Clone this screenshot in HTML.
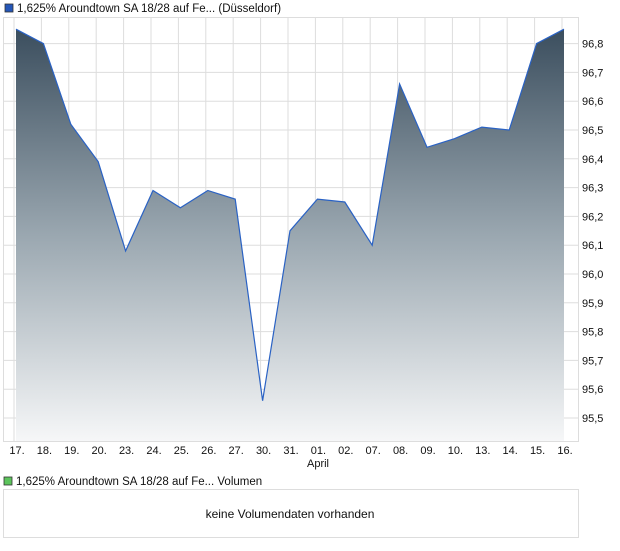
<!DOCTYPE html><html><head><style>body{margin:0;background:#fff;font-family:"Liberation Sans",sans-serif;}</style></head><body>
<svg width="620" height="546" xmlns="http://www.w3.org/2000/svg" font-family="Liberation Sans, sans-serif">
<defs><linearGradient id="g" x1="0" y1="0" x2="0" y2="1"><stop offset="0" stop-color="#3b4e5e"/><stop offset="0.5" stop-color="#9aa7b0"/><stop offset="1" stop-color="#f6f7f8"/></linearGradient></defs>
<rect x="5" y="4" width="8" height="8" fill="#2456b8" stroke="#333" stroke-width="0.8"/>
<text x="17" y="12" font-size="11.5" fill="#111">1,625% Aroundtown SA 18/28 auf Fe... (Düsseldorf)</text>
<g stroke="#ddd" stroke-width="1" id="grid"></g>
<rect x="3.5" y="17.5" width="575" height="424" fill="none" stroke="#ddd"/>
<path id="area" fill="url(#g)"/>
<path id="line" fill="none" stroke="#2a62c4" stroke-width="1.2"/>
<g id="yl" font-size="11" fill="#111"></g>
<g id="xl" font-size="11" fill="#111" text-anchor="middle"></g>
<text x="318" y="467" font-size="11" text-anchor="middle" fill="#111">April</text>
<rect x="4" y="477" width="8" height="8" fill="#5cc45c" stroke="#333" stroke-width="0.8"/>
<text x="16" y="485" font-size="11.5" fill="#111">1,625% Aroundtown SA 18/28 auf Fe... Volumen</text>
<rect x="3.5" y="489.5" width="575" height="48" fill="none" stroke="#ddd"/>
<text x="290" y="518" font-size="12" text-anchor="middle" fill="#111">keine Volumendaten vorhanden</text>
</svg>
<script>
var v=[96.85,96.80,96.52,96.39,96.08,96.29,96.23,96.29,96.26,95.56,96.15,96.26,96.25,96.10,96.66,96.44,96.47,96.51,96.50,96.80,96.85];
var lab=["17.","18.","19.","20.","23.","24.","25.","26.","27.","30.","31.","01.","02.","07.","08.","09.","10.","13.","14.","15.","16."];
function Y(a){return 43.6+(96.8-a)*288;}
function X(i){return 16+i*27.4;}
var ns="http://www.w3.org/2000/svg",g=document.getElementById("grid"),yl=document.getElementById("yl"),xl=document.getElementById("xl");
for(var i=0;i<21;i++){var l=document.createElementNS(ns,"line");l.setAttribute("x1",X(i)-2);l.setAttribute("x2",X(i)-2);l.setAttribute("y1",17);l.setAttribute("y2",442);g.appendChild(l);
var t=document.createElementNS(ns,"text");t.setAttribute("x",X(i)+1);t.setAttribute("y",454);t.textContent=lab[i];xl.appendChild(t);}
for(var k=0;k<=13;k++){var a=95.5+k*0.1,y=Y(a);var l=document.createElementNS(ns,"line");l.setAttribute("x1",3);l.setAttribute("x2",578);l.setAttribute("y1",y);l.setAttribute("y2",y);g.appendChild(l);
var t=document.createElementNS(ns,"text");t.setAttribute("x",582);t.setAttribute("y",y+4);t.textContent=a.toFixed(1).replace(".",",");yl.appendChild(t);}
var d="";for(var i=0;i<21;i++)d+=(i?"L":"M")+X(i)+","+Y(v[i]);
document.getElementById("line").setAttribute("d",d);
document.getElementById("area").setAttribute("d",d+"L"+X(20)+",441L"+X(0)+",441Z");
</script>
</body></html>
